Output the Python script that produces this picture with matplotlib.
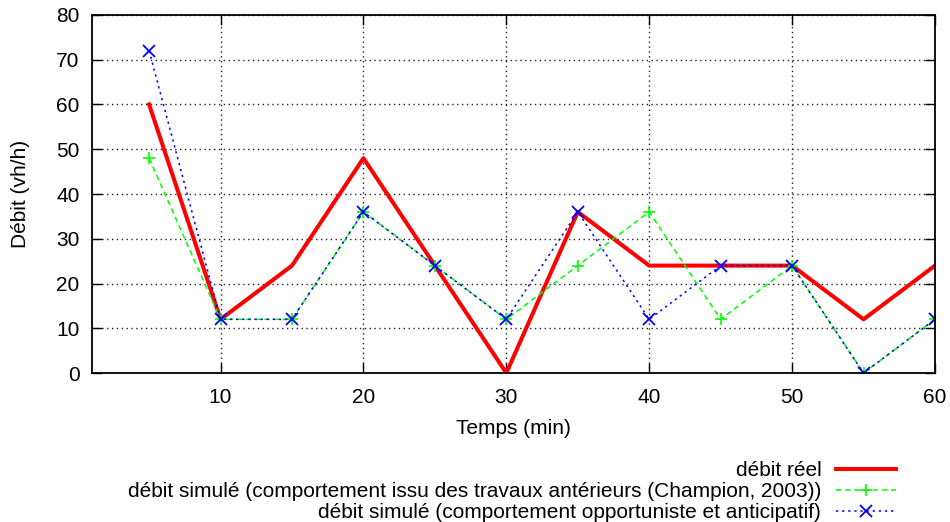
import numpy as np
import matplotlib.pyplot as plt

plt.rcParams['font.family'] = ['Liberation Sans', 'DejaVu Sans']

temps = [5, 10, 15, 20, 25, 30, 35, 40, 45, 50, 55, 60]
debit_reel = [60, 12, 24, 48, 24, 0, 36, 24, 24, 24, 12, 24]
debit_champion = [48, 12, 12, 36, 24, 12, 24, 36, 12, 24, 0, 12]
debit_anticipatif = [72, 12, 12, 36, 24, 12, 36, 12, 24, 24, 0, 12]

fig = plt.figure(figsize=(9.5, 5.22), dpi=100)
ax = fig.add_axes([0.0968, 0.2854, 0.8874, 0.6859])

ax.plot(temps, debit_reel, '-', color='#ff0000', lw=2.9, label='débit réel')
ax.plot(temps, debit_champion, '--', color='#00ff00', lw=1.1, marker='+', ms=9,
        mew=1.2, dashes=(3.5, 2.5),
        label='débit simulé (comportement issu des travaux antérieurs (Champion, 2003))')
ax.plot(temps, debit_anticipatif, ':', color='#0000ff', lw=1.1, marker='x', ms=8,
        mew=1.3, dashes=(1.5, 2.5),
        label='débit simulé (comportement opportuniste et anticipatif)')

ax.set_xlim(1, 60)
ax.set_ylim(0, 80)
ax.set_xticks([10, 20, 30, 40, 50, 60])
ax.set_yticks(np.arange(0, 81, 10))
ax.tick_params(direction='in', length=7, width=1, top=True, right=True,
               labelsize=15, pad=9)
ax.tick_params(axis='x', pad=10.5)
ax.set_axisbelow(True)
ax.grid(True, linestyle=(0, (1, 2.5)), color='#222222', lw=1)
for s in ax.spines.values():
    s.set_linewidth(1.3)

ax.set_xlabel('Temps (min)', fontsize=15, labelpad=9)
ax.set_ylabel('Débit (vh/h)', fontsize=15, labelpad=19)

leg = ax.legend(loc='upper right', bbox_to_anchor=(0.964, -0.222), frameon=False,
                markerfirst=False, fontsize=15, handlelength=2.9,
                labelspacing=0.1, handletextpad=0.7, borderaxespad=0)
for t in leg.get_texts():
    t.set_ha('right')
leg._legend_box.align = 'right'

fig.savefig('out.png', dpi=100)
